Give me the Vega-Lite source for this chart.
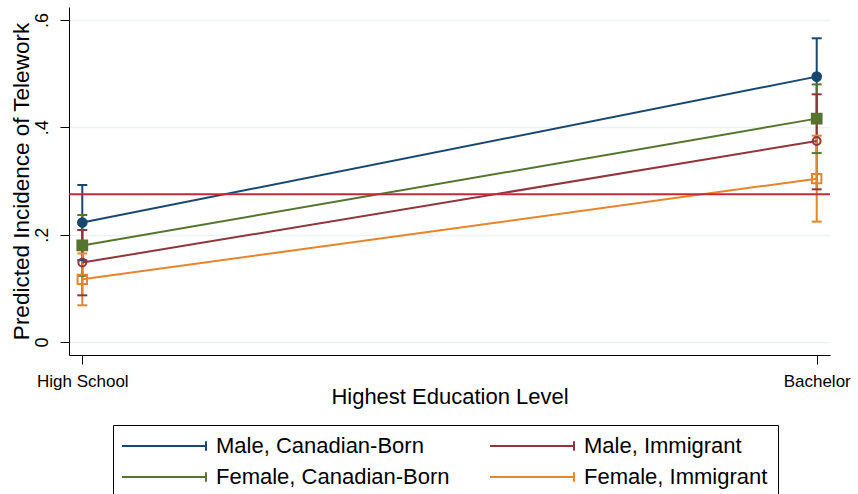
{
  "$schema": "https://vega.github.io/schema/vega-lite/v6.json",
  "width": 761,
  "height": 348,
  "autosize": {"type": "none"},
  "padding": {"left": 69, "top": 7, "right": 28, "bottom": 139},
  "background": "white",
  "config": {
    "view": {"stroke": null},
    "font": "Liberation Sans",
    "axis": {
      "domainColor": "#000000",
      "tickColor": "#000000",
      "labelColor": "#000000",
      "titleColor": "#000000",
      "gridColor": "#eaf2f3",
      "gridWidth": 1.5,
      "titleFontWeight": "normal",
      "tickSize": 9,
      "domainWidth": 1,
      "tickWidth": 1
    }
  },
  "datasets": {
    "est": [
      {"group": "Male, Canadian-Born", "edu": 0, "est": 0.2225, "lo": 0.1525, "hi": 0.2925},
      {"group": "Male, Canadian-Born", "edu": 1, "est": 0.4945, "lo": 0.4231, "hi": 0.5659},
      {"group": "Female, Canadian-Born", "edu": 0, "est": 0.18, "lo": 0.1234, "hi": 0.2366},
      {"group": "Female, Canadian-Born", "edu": 1, "est": 0.4162, "lo": 0.352, "hi": 0.48},
      {"group": "Male, Immigrant", "edu": 0, "est": 0.148, "lo": 0.087, "hi": 0.2087},
      {"group": "Male, Immigrant", "edu": 1, "est": 0.3745, "lo": 0.2845, "hi": 0.4615},
      {"group": "Female, Immigrant", "edu": 0, "est": 0.1168, "lo": 0.0684, "hi": 0.165},
      {"group": "Female, Immigrant", "edu": 1, "est": 0.3044, "lo": 0.2243, "hi": 0.3845}
    ],
    "ref": [{"ref": 0.2752}]
  },
  "layer": [
    {
      "data": {"name": "est"},
      "mark": {"type": "rule", "strokeWidth": 2},
      "encoding": {
        "x": {
          "field": "edu",
          "type": "quantitative",
          "scale": {"domain": [-0.0181, 1.0181], "nice": false, "zero": false},
          "axis": {
            "values": [0, 1],
            "labelExpr": "datum.value == 0 ? 'High School' : 'Bachelor'",
            "grid": false,
            "labelFontSize": 17,
            "labelPadding": 9,
            "labelFlush": false,
            "title": "Highest Education Level",
            "titleFontSize": 22,
            "titlePadding": -3
          }
        },
        "y": {
          "field": "lo",
          "type": "quantitative",
          "scale": {"domain": [-0.0242, 0.6242], "nice": false, "zero": false},
          "axis": {
            "values": [0, 0.2, 0.4, 0.6],
            "labelExpr": "datum.value == 0 ? '0' : replace(format(datum.value, '.1f'), '0.', '.')",
            "grid": true,
            "labelFontSize": 18,
            "labelAngle": -90,
            "labelAlign": "center",
            "labelBaseline": "alphabetic",
            "labelPadding": 13,
            "labelFlush": false,
            "title": "Predicted Incidence of Telework",
            "titleFontSize": 22.5,
            "titlePadding": 0
          }
        },
        "y2": {"field": "hi"},
        "color": {
          "field": "group",
          "type": "nominal",
          "scale": {
            "domain": ["Male, Canadian-Born", "Female, Canadian-Born", "Male, Immigrant", "Female, Immigrant"],
            "range": ["#1a476f", "#55752f", "#90353b", "#e8842a"]
          },
          "legend": {
            "orient": "none",
            "legendX": 44,
            "legendY": 418,
            "columns": 2,
            "title": null,
            "symbolType": "M-1.5,0L9,0M9,-0.6L9,0.6",
            "symbolSize": 256,
            "symbolStrokeWidth": 2,
            "labelFontSize": 22,
            "labelColor": "#000000",
            "labelOffset": 71,
            "labelLimit": 500,
            "columnPadding": 36,
            "rowPadding": 9,
            "padding": 10,
            "strokeColor": "#000000"
          }
        }
      }
    },
    {
      "data": {"name": "est"},
      "mark": {"type": "point", "shape": "M-1,0L1,0", "size": 100, "strokeWidth": 2, "filled": false, "opacity": 1},
      "encoding": {
        "x": {"field": "edu", "type": "quantitative"},
        "y": {"field": "lo", "type": "quantitative"},
        "stroke": {
          "field": "group",
          "type": "nominal",
          "scale": {
            "domain": ["Male, Canadian-Born", "Female, Canadian-Born", "Male, Immigrant", "Female, Immigrant"],
            "range": ["#1a476f", "#55752f", "#90353b", "#e8842a"]
          },
          "legend": null
        }
      }
    },
    {
      "data": {"name": "est"},
      "mark": {"type": "point", "shape": "M-1,0L1,0", "size": 100, "strokeWidth": 2, "filled": false, "opacity": 1},
      "encoding": {
        "x": {"field": "edu", "type": "quantitative"},
        "y": {"field": "hi", "type": "quantitative"},
        "stroke": {"field": "group", "type": "nominal", "legend": null}
      }
    },
    {
      "data": {"name": "est"},
      "mark": {"type": "line", "strokeWidth": 2},
      "encoding": {
        "x": {"field": "edu", "type": "quantitative"},
        "y": {"field": "est", "type": "quantitative"},
        "color": {"field": "group", "type": "nominal"}
      }
    },
    {
      "data": {"name": "est"},
      "transform": [{"filter": "datum.group == 'Male, Canadian-Born'"}],
      "mark": {"type": "point", "shape": "circle", "size": 75, "strokeWidth": 2, "filled": true, "fill": "#1a476f", "stroke": "#1a476f", "opacity": 1},
      "encoding": {
        "x": {"field": "edu", "type": "quantitative"},
        "y": {"field": "est", "type": "quantitative"}
      }
    },
    {
      "data": {"name": "est"},
      "transform": [{"filter": "datum.group == 'Female, Canadian-Born'"}],
      "mark": {"type": "point", "shape": "square", "size": 95, "strokeWidth": 2, "filled": true, "fill": "#55752f", "stroke": "#55752f", "opacity": 1},
      "encoding": {
        "x": {"field": "edu", "type": "quantitative"},
        "y": {"field": "est", "type": "quantitative"}
      }
    },
    {
      "data": {"name": "est"},
      "transform": [{"filter": "datum.group == 'Male, Immigrant'"}],
      "mark": {"type": "point", "shape": "circle", "size": 62, "strokeWidth": 2, "filled": false, "stroke": "#90353b", "opacity": 1},
      "encoding": {
        "x": {"field": "edu", "type": "quantitative"},
        "y": {"field": "est", "type": "quantitative"}
      }
    },
    {
      "data": {"name": "est"},
      "transform": [{"filter": "datum.group == 'Female, Immigrant'"}],
      "mark": {"type": "point", "shape": "square", "size": 88, "strokeWidth": 2, "filled": false, "stroke": "#e8842a", "opacity": 1},
      "encoding": {
        "x": {"field": "edu", "type": "quantitative"},
        "y": {"field": "est", "type": "quantitative"}
      }
    },
    {
      "data": {"name": "ref"},
      "mark": {"type": "rule", "color": "#c62a38", "strokeWidth": 2},
      "encoding": {"y": {"field": "ref", "type": "quantitative"}}
    }
  ]
}
